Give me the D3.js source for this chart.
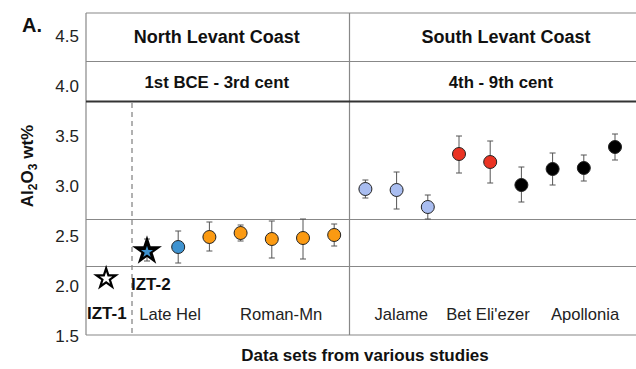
<!DOCTYPE html>
<head>
  <meta charset="utf-8">
  <style>
  body {
    margin: 0;
    background: #fff;
  }

  svg {
    display: block;
    font-family: "Liberation Sans", Arial, sans-serif;
  }

  .frame line {
    stroke: #888;
    stroke-width: 1.2px;
  }

  .tick-label {
    font-size: 17px;
    fill: #222;
  }

  .hdr {
    font-weight: bold;
    fill: #111;
  }

  .err {
    stroke: #555;
    stroke-width: 1px;
  }
</style>
</head>
<svg class="chart" width="636" height="369"></svg>

<script src="https://cdn.jsdelivr.net/npm/d3@7"></script>
<script>
// y tick values
var yTicks = [1.5, 2.0, 2.5, 3.0, 3.5, 4.0, 4.5];

// sample slots (x index) and values
var slots    = [2, 3, 4, 5, 6, 7, 8, 9, 10, 11, 12, 13, 14, 15, 16];
var means    = [2.38, 2.48, 2.52, 2.46, 2.47, 2.50, 2.96, 2.95, 2.78, 3.31, 3.23, 3.00, 3.16, 3.17, 3.38];
var errLow   = [2.22, 2.34, 2.44, 2.27, 2.26, 2.39, 2.87, 2.76, 2.66, 3.12, 3.02, 2.83, 3.00, 3.04, 3.25];
var errHigh  = [2.54, 2.63, 2.60, 2.64, 2.66, 2.61, 3.05, 3.13, 2.90, 3.49, 3.44, 3.18, 3.32, 3.30, 3.51];
var groupOf  = ["Late Hel", "Roman-Mn", "Roman-Mn", "Roman-Mn", "Roman-Mn", "Roman-Mn",
                "Jalame", "Jalame", "Jalame", "Bet Eli'ezer", "Bet Eli'ezer",
                "Apollonia", "Apollonia", "Apollonia", "Apollonia"];

var groupNames  = ["Late Hel", "Roman-Mn", "Jalame", "Bet Eli'ezer", "Apollonia"];
var groupColors = ["#3f93d0", "#fb9a12", "#a9bdf0", "#ea3323", "#000000"];
// centre slot of each group label
var groupLabelSlot = [1.74, 5.3, 9.15, 11.93, 15.04];

// IZT reference samples (stars)
var iztNames = ["IZT-1", "IZT-2"];
var iztSlots = [-0.31, 1];
var iztValues = [2.065, 2.34];
var iztLow = [null, 2.24];
var iztHigh = [null, 2.46];

// panel bands (y values where the horizontal rules sit)
var frameTop = 4.72;
var bandRules = [4.24, 3.84, 2.66, 2.19];
var regionNames = ["North Levant Coast", "South Levant Coast"];
var periodNames = ["1st BCE - 3rd cent", "4th - 9th cent"];

var svg = d3.select("svg");

var x = d3.scaleLinear().domain([0, 16]).range([115.8, 615]);
var y = d3.scaleLinear().domain([1.5, 4.5]).range([335, 35]);
var color = d3.scaleOrdinal().domain(groupNames).range(groupColors);

var left = 86, right = 636, divX = 349.5, dashX = 132;

// frame
var frame = svg.append("g").attr("class", "frame");
frame.append("line").attr("x1", left).attr("x2", right).attr("y1", y(frameTop)).attr("y2", y(frameTop));
frame.append("line").attr("x1", left).attr("x2", right).attr("y1", y(1.5)).attr("y2", y(1.5));
frame.append("line").attr("x1", left).attr("x2", left).attr("y1", y(frameTop)).attr("y2", y(1.5));
frame.append("line").attr("x1", divX).attr("x2", divX).attr("y1", y(frameTop)).attr("y2", y(1.5));
frame.selectAll(".rule")
  .data(bandRules)
  .enter()
  .append("line")
  .attr("class", "rule")
  .attr("x1", left)
  .attr("x2", right)
  .attr("y1", function(d) { return Math.round(y(d)) + 0.5; })
  .attr("y2", function(d) { return Math.round(y(d)) + 0.5; })
  .style("stroke", function(d, i) { return i === 1 ? "#333" : "#888"; })
  .style("stroke-width", function(d, i) { return i === 1 ? 1.8 : 1.2; });

svg.append("line")
  .attr("x1", dashX).attr("x2", dashX)
  .attr("y1", y(bandRules[1]) + 2).attr("y2", y(1.5))
  .attr("stroke", "#888")
  .attr("stroke-width", 1.3)
  .attr("stroke-dasharray", "5,4");

// y ticks
svg.selectAll(".tick-label")
  .data(yTicks)
  .enter()
  .append("text")
  .attr("class", "tick-label")
  .attr("x", 79)
  .attr("y", function(d) { return y(d) + 1; })
  .attr("dy", "0.36em")
  .attr("text-anchor", "end")
  .text(function(d) { return d.toFixed(1); });

// y title
var yt = svg.append("text")
  .attr("transform", "translate(33,166) rotate(-90)")
  .attr("text-anchor", "middle")
  .style("font-size", "17px")
  .style("font-weight", "bold")
  .attr("fill", "#111");
yt.append("tspan").text("Al");
yt.append("tspan").attr("dy", 4).style("font-size", "12px").text("2");
yt.append("tspan").attr("dy", -4).text("O");
yt.append("tspan").attr("dy", 4).style("font-size", "12px").text("3");
yt.append("tspan").attr("dy", -4).text(" wt%");

svg.append("text")
  .attr("x", 22).attr("y", 32)
  .style("font-size", "20px")
  .style("font-weight", "bold")
  .attr("fill", "#111")
  .text("A.");

// headers
var midN = (left + divX) / 2;
svg.selectAll(".region")
  .data(regionNames)
  .enter()
  .append("text")
  .attr("class", "hdr")
  .attr("x", function(d, i) { return i ? 506 : midN - 1; })
  .attr("y", 43)
  .attr("text-anchor", "middle")
  .style("font-size", "18px")
  .text(function(d) { return d; });

svg.selectAll(".period")
  .data(periodNames)
  .enter()
  .append("text")
  .attr("class", "hdr")
  .attr("x", function(d, i) { return i ? 501 : midN - 1; })
  .attr("y", 88)
  .attr("text-anchor", "middle")
  .style("font-size", "16.8px")
  .text(function(d) { return d; });

// error bars
var pts = slots.map(function(s, i) {
  return { slot: s, mean: means[i], lo: errLow[i], hi: errHigh[i], group: groupOf[i] };
});

var eb = svg.selectAll(".eb").data(pts).enter().append("g").attr("class", "err");
eb.append("line")
  .attr("x1", function(d) { return x(d.slot); })
  .attr("x2", function(d) { return x(d.slot); })
  .attr("y1", function(d) { return y(d.lo); })
  .attr("y2", function(d) { return y(d.hi); });
eb.append("line")
  .attr("x1", function(d) { return x(d.slot) - 3; })
  .attr("x2", function(d) { return x(d.slot) + 3; })
  .attr("y1", function(d) { return y(d.lo); })
  .attr("y2", function(d) { return y(d.lo); });
eb.append("line")
  .attr("x1", function(d) { return x(d.slot) - 3; })
  .attr("x2", function(d) { return x(d.slot) + 3; })
  .attr("y1", function(d) { return y(d.hi); })
  .attr("y2", function(d) { return y(d.hi); });

svg.selectAll(".pt")
  .data(pts)
  .enter()
  .append("circle")
  .attr("class", "pt")
  .attr("cx", function(d) { return x(d.slot); })
  .attr("cy", function(d) { return y(d.mean); })
  .attr("r", 6.5)
  .attr("fill", function(d) { return color(d.group); })
  .attr("stroke", "#222")
  .attr("stroke-width", 1);

// IZT stars
var star = d3.symbol().type(d3.symbolStar);
iztNames.forEach(function(name, i) {
  var cx = x(iztSlots[i]), cy = y(iztValues[i]);
  if (iztLow[i] != null) {
    var g = svg.append("g").attr("class", "err");
    g.append("line").attr("x1", cx).attr("x2", cx).attr("y1", y(iztLow[i])).attr("y2", y(iztHigh[i]));
    g.append("line").attr("x1", cx - 3).attr("x2", cx + 3).attr("y1", y(iztLow[i])).attr("y2", y(iztLow[i]));
    g.append("line").attr("x1", cx - 3).attr("x2", cx + 3).attr("y1", y(iztHigh[i])).attr("y2", y(iztHigh[i]));
    svg.append("path")
      .attr("d", star.size(175)())
      .attr("transform", "translate(" + cx + "," + cy + ")")
      .attr("fill", "#000")
      .attr("stroke", "#000")
      .attr("stroke-width", 2)
      .attr("stroke-linejoin", "miter");
    svg.append("path")
      .attr("d", star.size(45)())
      .attr("transform", "translate(" + cx + "," + (cy + 1) + ")")
      .attr("fill", color("Late Hel"));
  } else {
    svg.append("path")
      .attr("d", star.size(115)())
      .attr("transform", "translate(" + cx + "," + cy + ")")
      .attr("fill", "#fff")
      .attr("stroke", "#000")
      .attr("stroke-width", 2.2)
      .attr("stroke-linejoin", "miter");
  }
});

// IZT labels
svg.append("text").attr("class", "hdr").attr("x", 131).attr("y", 290)
  .style("font-size", "17px").text(iztNames[1]);
svg.append("text").attr("class", "hdr").attr("x", 87).attr("y", 319)
  .style("font-size", "17px").text(iztNames[0]);

// group labels
svg.selectAll(".grp")
  .data(groupNames)
  .enter()
  .append("text")
  .attr("x", function(d, i) { return x(groupLabelSlot[i]); })
  .attr("y", 320)
  .attr("text-anchor", "middle")
  .style("font-size", "16.6px")
  .attr("fill", "#222")
  .text(function(d) { return d; });

// x title
svg.append("text")
  .attr("class", "hdr")
  .attr("x", 365)
  .attr("y", 361)
  .attr("text-anchor", "middle")
  .style("font-size", "17px")
  .text("Data sets from various studies");
</script>
